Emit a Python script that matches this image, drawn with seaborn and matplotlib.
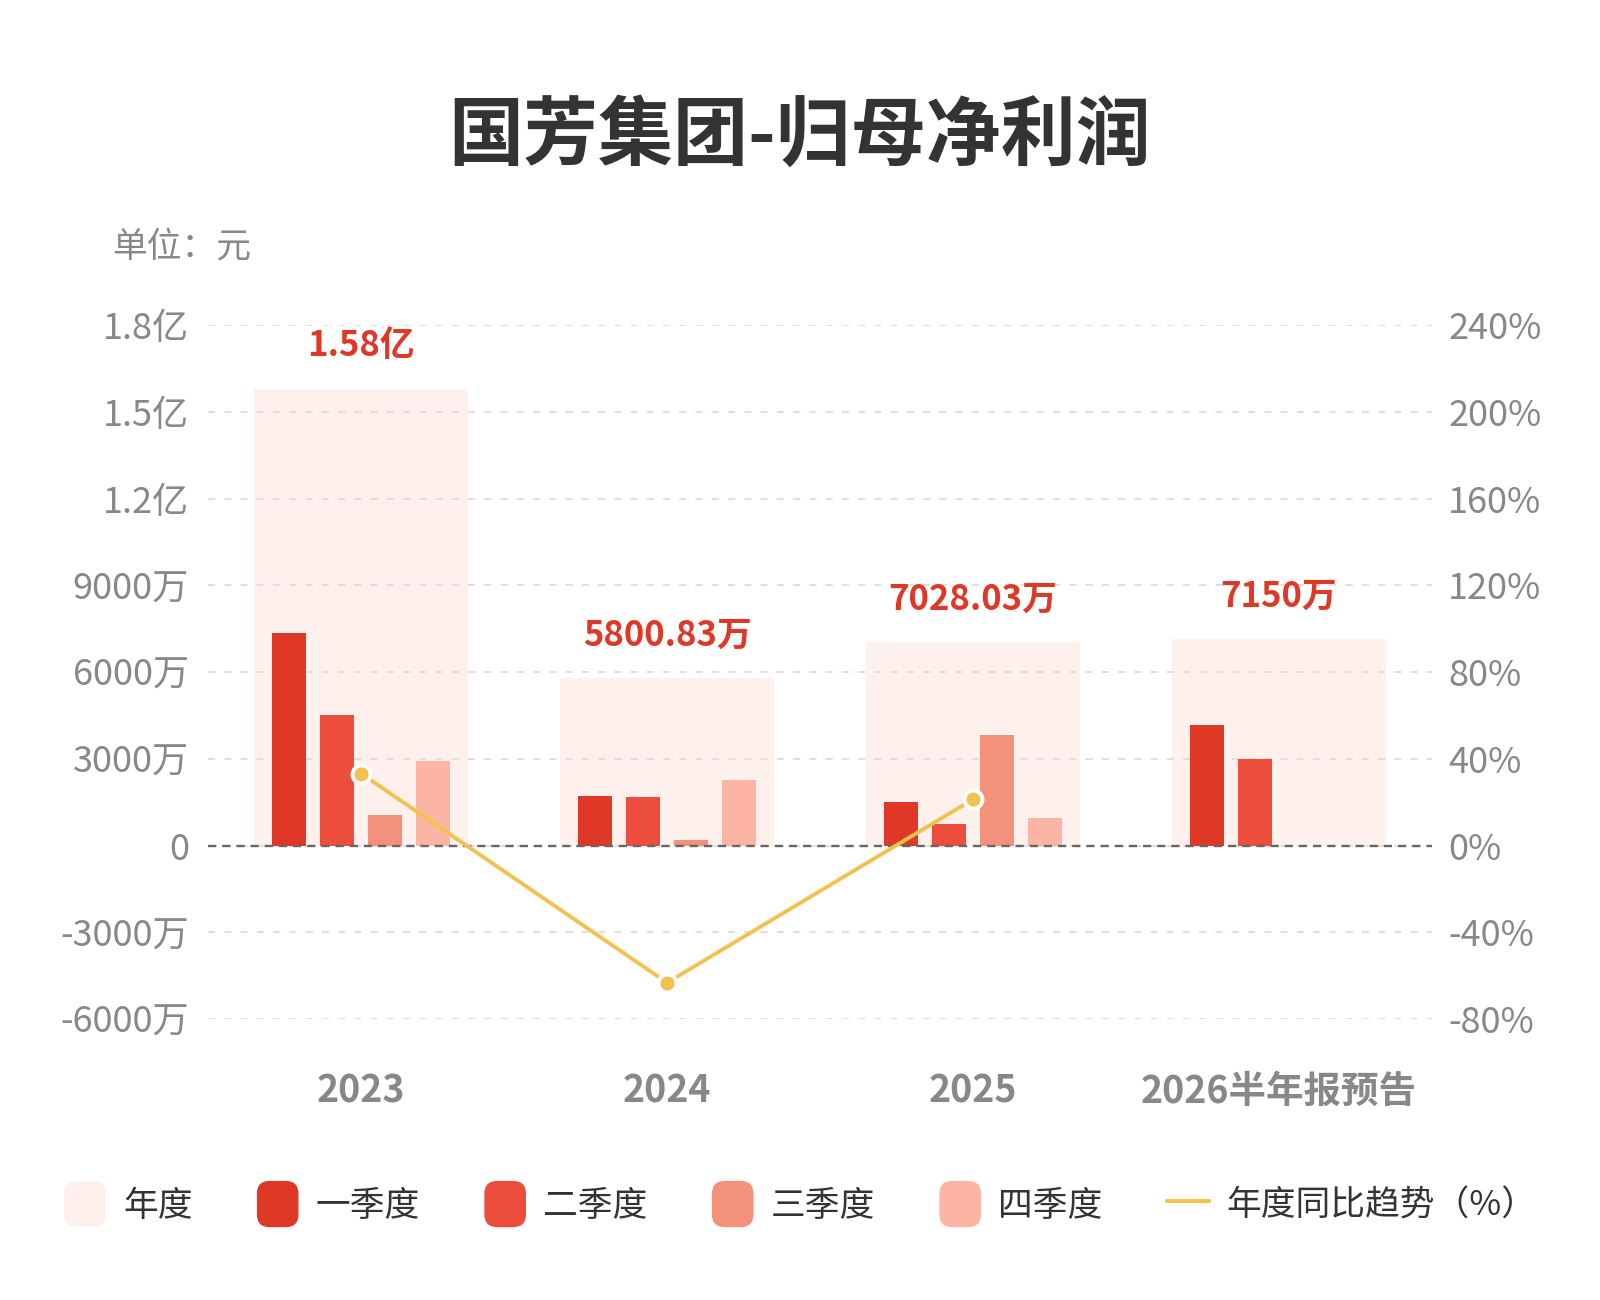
import numpy as np
import pandas as pd
import seaborn as sns
from matplotlib import pyplot as plt
from matplotlib.patches import Patch, FancyBboxPatch
from matplotlib.lines import Line2D
from matplotlib.legend_handler import HandlerPatch
from matplotlib.ticker import FuncFormatter, MultipleLocator

# data (万元)
years = ['2023', '2024', '2025', '2026半年报预告']
annual = [15800.0, 5800.83, 7028.03, 7150.0]
annual_labels = ['1.58亿', '5800.83万', '7028.03万', '7150万']
quarters = ['一季度', '二季度', '三季度', '四季度']
q1 = [7350, 1720, 1520, 4170]
q2 = [4520, 1680, 760, 2990]
q3 = [1060, 200, 3840, np.nan]
q4 = [2930, 2270, 940, np.nan]
yoy = [33.2, -63.3, 21.3, np.nan]

bg_color = '#FEF0EC'
q_colors = ['#E03826', '#EC4D3C', '#F4917A', '#FCB4A4']
line_color = '#F2C14F'
red = '#E03826'

df_q = pd.DataFrame({
    'year': years * 4,
    'quarter': [q for q in quarters for _ in years],
    'value': q1 + q2 + q3 + q4,
})

sns.set_theme(style='white')
plt.rcParams['font.family'] = ['Noto Sans CJK SC', 'DejaVu Sans']

fig = plt.figure(figsize=(16, 13), dpi=100)
ax = fig.add_axes([0.1302, 0.2162, 0.7646, 0.5335])

# annual background bars
sns.barplot(x=years, y=annual, order=years, color=bg_color, width=0.7,
            saturation=1, errorbar=None, linewidth=0, ax=ax)
n_bg = len(ax.patches)

# quarterly bars
sns.barplot(data=df_q, x='year', y='value', hue='quarter', order=years,
            hue_order=quarters, palette=q_colors, width=0.628, gap=0.29,
            saturation=1, errorbar=None, linewidth=0, legend=False, ax=ax)
for p in ax.patches[n_bg:]:
    p.set_zorder(2)

ax.set_xlim(-0.5, 3.5)
ax.set_ylim(-6000, 18000)
ax.yaxis.set_major_locator(MultipleLocator(3000))


def fmt_left(v, pos):
    if v == 0:
        return '0'
    if abs(v) >= 10000:
        return f'{v / 10000:.1f}亿'
    return f'{v:.0f}万'


ax.yaxis.set_major_formatter(FuncFormatter(fmt_left))
ax.set_axisbelow('line')
ax.yaxis.grid(True, color='#DDDDDD', linestyle=(0, (4, 5)), linewidth=1.3)
ax.xaxis.grid(False)
ax.axhline(0, color='#666666', linestyle=(0, (3.5, 2.5)), linewidth=1.7, zorder=3)
ax.set_xlabel('')
ax.set_ylabel('')
ax.tick_params(axis='y', length=0, pad=14, labelsize=26, labelcolor='#888888')
ax.tick_params(axis='x', length=0, pad=38, labelsize=27, labelcolor='#888888')
for lbl in ax.get_xticklabels():
    lbl.set_fontweight('bold')
sns.despine(ax=ax, left=True, bottom=True)

# annual value labels
for i, (v, lab) in enumerate(zip(annual, annual_labels)):
    ax.annotate(lab, (i, v), xytext=(0, 31), textcoords='offset points',
                ha='center', va='center', fontsize=25, fontweight='bold',
                color=red, annotation_clip=False)

# yoy line on right axis
ax2 = ax.twinx()
sns.pointplot(x=years, y=yoy, order=years, color=line_color, markers='o',
              markersize=13, linewidth=2.8, errorbar=None,
              markeredgecolor='white', markeredgewidth=2.8, ax=ax2)
ax2.set_xlim(-0.5, 3.5)
ax2.set_ylim(-80, 240)
ax2.yaxis.set_major_locator(MultipleLocator(40))
ax2.yaxis.set_major_formatter(FuncFormatter(lambda v, pos: f'{v:.0f}%'))
ax2.tick_params(axis='y', length=0, pad=12, labelsize=26, labelcolor='#888888')
ax2.grid(False)
ax2.set_ylabel('')
ax2.set_xlabel('')
for s in ax2.spines.values():
    s.set_visible(False)

# title and unit
fig.text(0.5, 1 - 137 / 1300, '国芳集团-归母净利润', ha='center', va='center',
         fontsize=54, fontweight='bold', color='#333333')
fig.text(112 / 1600, 1 - 248 / 1300, '单位：元', ha='left', va='center',
         fontsize=25, color='#888888')


class RoundPatchHandler(HandlerPatch):
    def create_artists(self, legend, orig_handle, xdescent, ydescent,
                       width, height, fontsize, trans):
        h = height * 1.3
        p = FancyBboxPatch((-xdescent, -ydescent - (h - height) / 2), width, h,
                           boxstyle=f'round,pad=0,rounding_size={h * 0.28}',
                           facecolor=orig_handle.get_facecolor(),
                           edgecolor='none', transform=trans)
        return [p]


handles = [Patch(facecolor=bg_color)] + [Patch(facecolor=c) for c in q_colors]
handles.append(Line2D([], [], color=line_color, linewidth=3))
labels = ['年度'] + quarters + ['年度同比趋势（%）']
fig.legend(handles, labels, loc='center', bbox_to_anchor=(0.5, 1 - 1205 / 1300),
           ncol=6, frameon=False, fontsize=25, handlelength=1.2,
           handleheight=1.2, handletextpad=0.5, columnspacing=1.85,
           labelcolor='#333333', handler_map={Patch: RoundPatchHandler()})

plt.savefig('out.png', dpi=100)
